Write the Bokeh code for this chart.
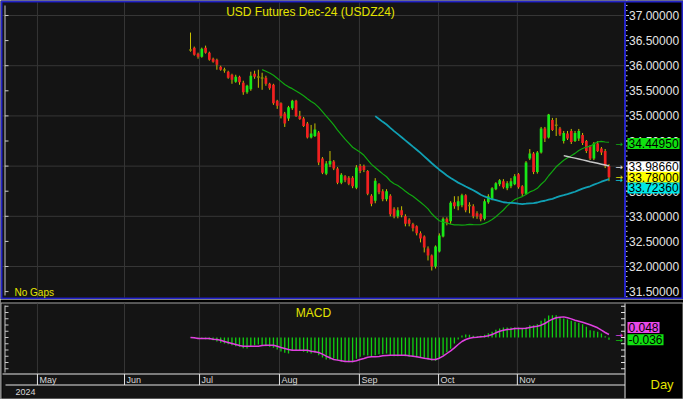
from bokeh.plotting import figure
from bokeh.layouts import column
from bokeh.models import Range1d, Label
from bokeh.embed import file_html
from bokeh.resources import INLINE
from bokeh.core.properties import value

# ---------------- data ----------------
title_text = "USD  Futures  Dec-24  (USDZ24)"

opens = [36.30, 36.36, 36.24, 36.18, 36.36, 36.26, 36.14, 36.12, 35.98, 35.90,
         35.88, 35.82, 35.68, 35.78, 35.66, 35.47, 35.53, 35.84, 35.76, 35.74,
         35.76, 35.64, 35.62, 35.30, 35.25, 35.05, 34.95, 35.15, 35.30, 35.00,
         34.95, 34.85, 34.57, 34.60, 34.67, 34.15, 33.85, 34.03, 34.09, 33.95,
         33.67, 33.80, 33.77, 33.77, 33.57, 34.00, 34.00, 33.90, 33.41, 33.31,
         33.64, 33.50, 33.34, 33.41, 33.15, 33.00, 33.12, 33.00, 32.93, 32.84,
         32.80, 32.66, 32.60, 32.36, 32.22, 32.00, 32.30, 32.60, 32.95, 32.90,
         33.28, 33.20, 33.22, 33.42, 33.20, 33.20, 33.06, 33.04, 32.95, 33.28,
         33.35, 33.54, 33.64, 33.70, 33.56, 33.60, 33.64, 33.84, 33.60, 33.45,
         34.15, 34.25, 33.88, 34.27, 34.75, 34.57, 34.92, 34.80, 34.75, 34.50,
         34.65, 34.70, 34.50, 34.55, 34.62, 34.50, 34.40, 34.15, 34.45, 34.35,
         34.30, 34.00]
highs = [36.66, 36.38, 36.26, 36.36, 36.40, 36.28, 36.16, 36.14, 36.00, 35.96,
         35.90, 35.84, 35.82, 35.80, 35.70, 35.62, 35.88, 35.90, 35.92, 35.86,
         35.80, 35.66, 35.64, 35.32, 35.27, 35.08, 35.20, 35.32, 35.32, 35.10,
         34.98, 34.88, 34.82, 34.85, 34.70, 34.18, 34.10, 34.30, 34.12, 33.98,
         33.86, 33.82, 33.80, 33.80, 34.02, 34.04, 34.03, 33.92, 33.44, 33.76,
         33.66, 33.54, 33.54, 33.44, 33.18, 33.18, 33.20, 33.04, 32.96, 32.87,
         32.82, 32.70, 32.62, 32.40, 32.24, 32.42, 32.66, 32.98, 32.98, 33.30,
         33.40, 33.40, 33.45, 33.44, 33.28, 33.24, 33.10, 33.06, 33.34, 33.44,
         33.58, 33.68, 33.74, 33.74, 33.70, 33.76, 33.84, 33.86, 33.62, 34.10,
         34.34, 34.28, 34.30, 34.78, 34.78, 35.04, 34.96, 34.96, 34.78, 34.70,
         34.70, 34.74, 34.70, 34.74, 34.66, 34.52, 34.42, 34.48, 34.50, 34.38,
         34.34, 34.04]
lows = [36.28, 36.20, 36.14, 36.16, 36.24, 36.10, 36.06, 35.92, 35.90, 35.86,
        35.74, 35.64, 35.66, 35.62, 35.42, 35.44, 35.50, 35.74, 35.56, 35.52,
        35.60, 35.52, 35.22, 35.14, 34.95, 34.78, 34.90, 35.12, 34.98, 34.92,
        34.78, 34.55, 34.55, 34.58, 34.02, 33.84, 33.82, 33.98, 33.92, 33.64,
        33.64, 33.68, 33.62, 33.56, 33.54, 33.86, 33.88, 33.42, 33.20, 33.26,
        33.44, 33.30, 33.30, 33.00, 32.96, 32.96, 32.98, 32.80, 32.80, 32.70,
        32.62, 32.48, 32.28, 32.12, 31.92, 31.96, 32.28, 32.58, 32.82, 32.85,
        33.15, 33.12, 33.18, 33.08, 33.06, 32.96, 32.95, 32.90, 32.92, 33.25,
        33.32, 33.52, 33.60, 33.55, 33.52, 33.56, 33.62, 33.55, 33.40, 33.43,
        34.12, 33.84, 33.85, 34.25, 34.48, 34.55, 34.70, 34.60, 34.60, 34.45,
        34.52, 34.44, 34.48, 34.50, 34.42, 34.26, 34.12, 34.12, 34.28, 34.22,
        33.96, 33.70]
closes = [36.30, 36.22, 36.18, 36.34, 36.26, 36.12, 36.08, 36.02, 35.92, 35.90,
          35.76, 35.72, 35.78, 35.67, 35.47, 35.60, 35.80, 35.78, 35.76, 35.74,
          35.64, 35.55, 35.25, 35.20, 35.00, 34.85, 35.17, 35.30, 35.00, 34.94,
          34.80, 34.57, 34.65, 34.73, 34.07, 33.87, 34.05, 34.10, 33.95, 33.67,
          33.83, 33.72, 33.65, 33.60, 33.97, 33.90, 33.92, 33.45, 33.25, 33.71,
          33.48, 33.34, 33.50, 33.04, 33.00, 33.12, 33.02, 32.85, 32.85, 32.76,
          32.66, 32.56, 32.38, 32.22, 32.00, 32.40, 32.62, 32.95, 32.87, 33.27,
          33.20, 33.30, 33.42, 33.12, 33.20, 33.00, 33.00, 32.94, 33.30, 33.40,
          33.56, 33.66, 33.72, 33.58, 33.66, 33.70, 33.80, 33.58, 33.45, 34.07,
          34.25, 33.88, 34.27, 34.75, 34.55, 35.03, 34.72, 34.80, 34.63, 34.66,
          34.55, 34.48, 34.66, 34.70, 34.46, 34.30, 34.15, 34.45, 34.30, 34.27,
          34.00, 33.78]

macd_hist = [-0.005, -0.011, -0.016, -0.021, -0.027, -0.032, -0.043, -0.064, -0.085, -0.096,
             -0.107, -0.123, -0.139, -0.149, -0.171, -0.176, -0.149, -0.123, -0.112, -0.123,
             -0.139, -0.149, -0.165, -0.192, -0.224, -0.245, -0.256, -0.213, -0.203, -0.213,
             -0.229, -0.245, -0.256, -0.245, -0.283, -0.320, -0.352, -0.352, -0.336, -0.362,
             -0.389, -0.389, -0.394, -0.394, -0.341, -0.309, -0.283, -0.288, -0.309, -0.283,
             -0.267, -0.267, -0.256, -0.283, -0.299, -0.299, -0.288, -0.299, -0.309, -0.309,
             -0.315, -0.320, -0.331, -0.352, -0.368, -0.373, -0.341, -0.283, -0.235, -0.181,
             -0.096, -0.032, 0.032, 0.048, 0.043, 0.027, 0.021, 0.027, 0.043, 0.069,
             0.091, 0.123, 0.144, 0.160, 0.160, 0.160, 0.160, 0.160, 0.144, 0.160,
             0.197, 0.197, 0.213, 0.267, 0.304, 0.352, 0.357, 0.357, 0.320, 0.304,
             0.288, 0.267, 0.251, 0.235, 0.213, 0.171, 0.117, 0.107, 0.091, 0.064,
             0.021, -0.036]
macd_signal = [0.000, -0.005, -0.016, -0.016, -0.016, -0.016, -0.027, -0.032, -0.043, -0.064,
               -0.080, -0.096, -0.112, -0.128, -0.139, -0.139, -0.139, -0.139, -0.139, -0.128,
               -0.123, -0.123, -0.123, -0.139, -0.160, -0.176, -0.192, -0.203, -0.203, -0.203,
               -0.203, -0.203, -0.219, -0.229, -0.240, -0.267, -0.299, -0.325, -0.352, -0.362,
               -0.373, -0.384, -0.384, -0.384, -0.373, -0.352, -0.336, -0.315, -0.309, -0.309,
               -0.304, -0.293, -0.288, -0.283, -0.283, -0.283, -0.283, -0.283, -0.293, -0.299,
               -0.309, -0.320, -0.331, -0.341, -0.352, -0.352, -0.331, -0.299, -0.256, -0.213,
               -0.165, -0.112, -0.064, -0.032, -0.011, 0.000, 0.005, 0.011, 0.016, 0.027,
               0.048, 0.075, 0.101, 0.117, 0.128, 0.133, 0.144, 0.144, 0.144, 0.149,
               0.160, 0.171, 0.181, 0.197, 0.224, 0.261, 0.293, 0.315, 0.325, 0.330,
               0.315, 0.298, 0.277, 0.261, 0.245, 0.224, 0.203, 0.181, 0.155, 0.117,
               0.080, 0.048]

months = ["May", "Jun", "Jul", "Aug", "Sep", "Oct", "Nov"]
month_pos = [-40.6, -17.5, 2.4, 23.6, 44.8, 65.8, 86.7]   # bar-index positions of month starts
year_label = "2024"
price_ticks = [31.5, 32.0, 32.5, 33.0, 33.5, 34.0, 34.5, 35.0, 35.5, 36.0, 36.5, 37.0]
price_grid = [32.0, 33.0, 34.0, 35.0, 36.0, 37.0]
macd_ticks = [-0.5, -0.4, -0.3, -0.2, -0.1, 0.0, 0.1, 0.2, 0.3, 0.4, 0.5]
readout_values = [34.4495, 33.9866, 33.78, 33.7236]     # SMA20, SMA100, last, SMA50
macd_readouts = [0.048, -0.036]                          # signal, histogram

# ---------------- derived ----------------
n = len(closes)
idx = list(range(n))


def sma(vals, period):
    out = []
    for i in range(len(vals)):
        if i < period - 1:
            out.append(float("nan"))
        else:
            out.append(sum(vals[i - period + 1:i + 1]) / period)
    return out


sma20 = sma(closes, 20)
sma50 = sma(closes, 50)
sma100 = sma(closes, 100)

# ---------------- layout / styling ----------------
FONT = "Liberation Sans"
BG = "#141414"
GRID = "#363636"
BLUE = "#2424C8"
YELLOW = "#E4E400"
TXT = "#E4E4E4"
W = 683
BAR0_PX, BAR_PX = 190.0, 3.77          # screen x of first bar, pixels per bar
P_REF, PY_REF, PX_PER_UNIT = 37.0, 15.0, 50.2
M_ZERO_PY, M_PER_PX = 337.0, 0.016
UP, DOWN, FLAT = "#18E818", "#F02020", "#8C8C00"
WICK = "#C8C000"
C20, C50, C100 = "#10A810", "#10A0B4", "#C8C8C8"


def px2x(px):
    return (px - BAR0_PX) / BAR_PX


def py2p(py):
    return P_REF + (PY_REF - py) / PX_PER_UNIT


def py2m(py):
    return (M_ZERO_PY - py) * M_PER_PX


def seg_h(fig, ys, x0, x1, **kw):
    fig.segment(x0=[x0] * len(ys), y0=ys, x1=[x1] * len(ys), y1=ys, **kw)


def seg_v(fig, xs, y0, y1, **kw):
    fig.segment(x0=xs, y0=[y0] * len(xs), x1=xs, y1=[y1] * len(xs), **kw)


# ---------------- main price panel ----------------
p = figure(width=W, height=299, x_range=Range1d(px2x(0), px2x(W)),
           y_range=Range1d(py2p(299), py2p(0)),
           x_axis_location=None, y_axis_location=None, min_border=0,
           output_backend="svg", toolbar_location=None,
           background_fill_color="black", border_fill_color="black", outline_line_color=None)
p.grid.visible = False

p.quad(left=px2x(2), right=px2x(624), bottom=py2p(297), top=py2p(2), fill_color=BG, line_color=None)
seg_h(p, price_grid, px2x(2), px2x(624), line_color=GRID, line_width=1)
seg_v(p, month_pos, py2p(297), py2p(2), line_color=GRID, line_width=1)

# frame borders
p.quad(left=px2x(1), right=px2x(682), bottom=py2p(298), top=py2p(1), fill_color=None,
       line_color=BLUE, line_width=2)
seg_v(p, [px2x(624.5)], py2p(2), py2p(297), line_color=BLUE, line_width=2)

# left ruler ticks
minor_p = [round(31.4 + 0.1 * k, 1) for k in range(60)]
seg_v(p, [px2x(4.5)], py2p(5), py2p(295), line_color="#C8C8C8", line_width=1)
seg_h(p, price_ticks, px2x(4.5), px2x(8), line_color="#C8C8C8", line_width=1)

# right price axis
seg_h(p, price_ticks, px2x(625.5), px2x(628.5), line_color=TXT, line_width=1)
seg_h(p, minor_p, px2x(625.5), px2x(627), line_color="#C0C0C0", line_width=1)
p.text(x=[px2x(628.5)] * len(price_ticks), y=price_ticks, text=[f"{v:.5f}" for v in price_ticks],
       text_font=value(FONT), text_font_size="12px", text_color=TXT, text_baseline="middle")

# candles
body_lo = [min(o, c) for o, c in zip(opens, closes)]
body_hi = [max(o, c) if o != c else o + 0.03 for o, c in zip(opens, closes)]
body_col = [UP if c > o else (DOWN if c < o else FLAT) for o, c in zip(opens, closes)]
p.segment(x0=idx, y0=lows, x1=idx, y1=highs, line_color=WICK, line_width=1)
p.vbar(x=idx, bottom=body_lo, top=body_hi, width=0.72, fill_color=body_col, line_color=None)

# moving averages
p.line(idx, sma20, line_color=C20, line_width=1.2)
p.line(idx, sma50, line_color=C50, line_width=1.8)
p.line(idx, sma100, line_color=C100, line_width=1.5)

p.add_layout(Label(x=px2x(315), y=py2p(11), text=title_text,
                   text_align="center", text_baseline="middle", text_color=YELLOW,
                   text_font=FONT, text_font_size="12px"))
p.add_layout(Label(x=px2x(14), y=py2p(292), text="No Gaps",
                   text_baseline="middle", text_color=YELLOW,
                   text_font=FONT, text_font_size="10px"))

readout_bg = ["#10E010", "#FFFFFF", "#FFFF00", "#00E8E8"]
arrow_col = [C20, "#E0E0E0", "#E0E000", "#10C8D8"]
readout_shift = [0, 0, 0, -8]
for val, bg, ac, sh in zip(readout_values, readout_bg, arrow_col, readout_shift):
    p.add_layout(Label(x=px2x(627), y=val, y_offset=sh,
                       text=f"{val:.5f}", text_font=FONT, text_font_size="12px",
                       text_color="black", text_baseline="middle",
                       background_fill_color=bg, padding=1))
    p.add_layout(Label(x=px2x(615), y=val, text="\u2192",
                       text_font="DejaVu Sans", text_font_size="9px", text_color=ac,
                       text_baseline="middle"))

# ---------------- MACD panel + date band ----------------
q = figure(width=W, height=100, x_range=p.x_range,
           y_range=Range1d(py2m(399), py2m(299)),
           x_axis_location=None, y_axis_location=None, min_border=0,
           output_backend="svg", toolbar_location=None,
           background_fill_color="black", border_fill_color="black", outline_line_color=None)
q.grid.visible = False

q.quad(left=px2x(2), right=px2x(624), bottom=py2m(398), top=py2m(303), fill_color=BG, line_color=None)
q.quad(left=px2x(0.5), right=px2x(682.5), bottom=py2m(398.5), top=py2m(302.5), fill_color=None,
       line_color="#A8A8A8", line_width=1)
seg_v(q, month_pos, py2m(373), py2m(303), line_color=GRID, line_width=1)

# rulers
seg_v(q, [px2x(624.5)], py2m(303), py2m(398), line_color=TXT, line_width=1)
seg_h(q, macd_ticks, px2x(620.5), px2x(624.5), line_color=TXT, line_width=1)
seg_v(q, [px2x(4.5)], py2m(305), py2m(372), line_color="#C8C8C8", line_width=1)
seg_h(q, macd_ticks, px2x(4.5), px2x(8), line_color="#C8C8C8", line_width=1)

# indicator
q.segment(x0=idx, y0=[0.0] * n, x1=idx, y1=macd_hist, line_color="#10D010", line_width=1.3)
q.line(idx, macd_signal, line_color="#E040E0", line_width=1.5)

q.add_layout(Label(x=px2x(313), y=py2m(312), text="MACD",
                   text_align="center", text_baseline="middle", text_color=YELLOW,
                   text_font=FONT, text_font_size="12px"))
macd_bg = ["#E848E8", "#10E010"]
macd_arrow = ["#E040E0", "#10C010"]
macd_shift = [7, 0]
for val, bg, ac, sh in zip(macd_readouts, macd_bg, macd_arrow, macd_shift):
    q.add_layout(Label(x=px2x(627), y=val, y_offset=sh,
                       text=f"{val:.3f}", text_font=FONT, text_font_size="12px",
                       text_color="black", text_baseline="middle",
                       background_fill_color=bg, padding=1))
    q.add_layout(Label(x=px2x(615), y=val, text="\u2192",
                       text_font="DejaVu Sans", text_font_size="9px", text_color=ac,
                       text_baseline="middle"))

# date band
seg_h(q, [py2m(373.5)], px2x(2), px2x(624.5), line_color=TXT, line_width=1)
seg_h(q, [py2m(384.5)], px2x(5), px2x(624.5), line_color=TXT, line_width=1)
seg_v(q, month_pos, py2m(373.5), py2m(384.5), line_color=TXT, line_width=1)
q.text(x=month_pos, y=[py2m(379.5)] * len(month_pos), text=months, x_offset=2,
       text_font=value(FONT), text_font_size="9px", text_color="#D8D8D8",
       text_baseline="middle")
q.add_layout(Label(x=px2x(15), y=py2m(391), text=year_label,
                   text_baseline="middle", text_color="#D8D8D8",
                   text_font=FONT, text_font_size="9px"))
q.add_layout(Label(x=px2x(650), y=py2m(384), text="Day",
                   text_baseline="middle", text_color=YELLOW,
                   text_font=FONT, text_font_size="13px"))

layout = column(p, q, spacing=0)
open("out.html", "w").write(file_html(layout, INLINE))
